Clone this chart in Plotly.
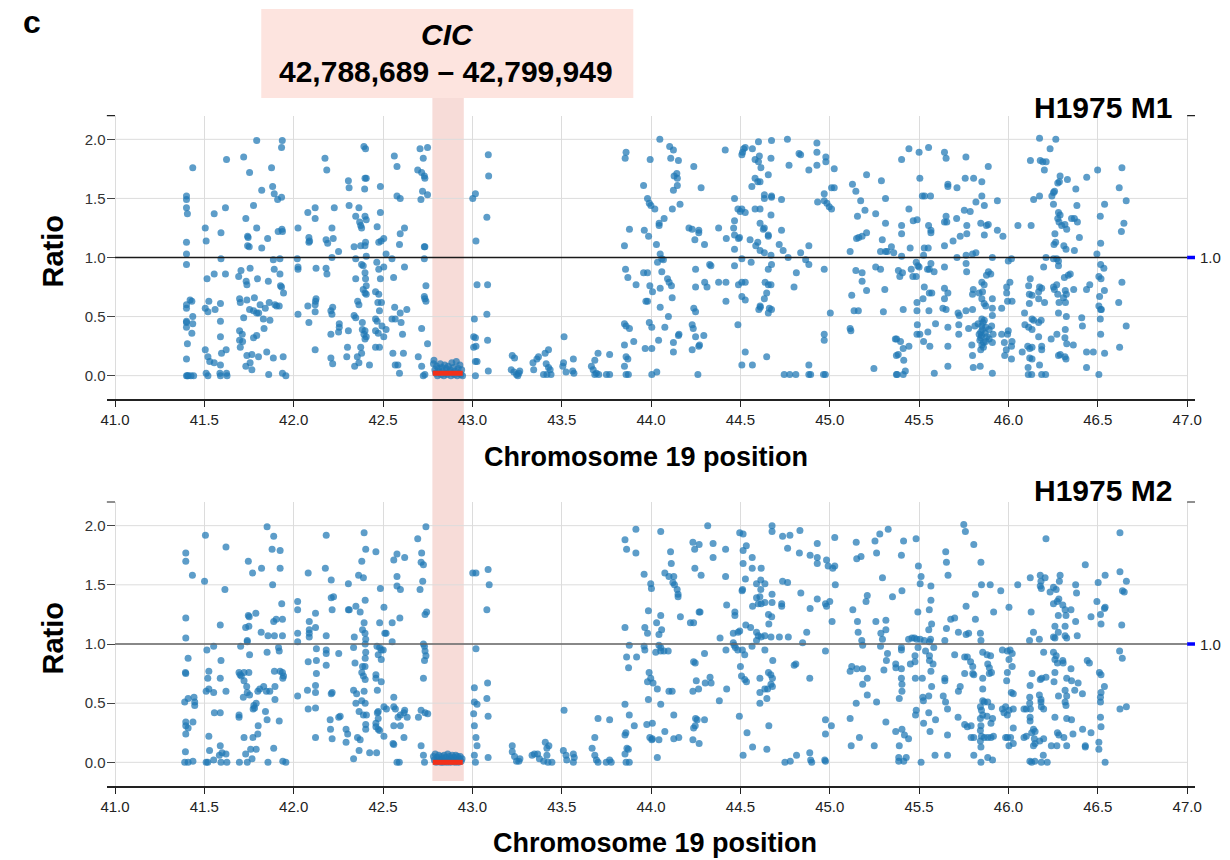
import plotly.graph_objects as go

# ---------------- data (Chromosome 19 position in Mb, copy-number ratio) ----------------
m1_a = [(41.40,1.52),(41.40,1.49),(41.40,1.42),(41.405,1.37),(41.40,1.13),(41.40,1.03),(41.40,0.94),(41.40,0.60),(41.40,0.57),(41.40,0.46),(41.40,0.45),(41.40,0.41),(41.405,0.27),(41.40,0.14),(41.40,0.0),(41.405,0.0),(41.41,0.0),
        (41.42,0.64),(41.43,0.63),(41.435,0.50),(41.435,0.44),(41.43,0.36),(41.425,0.0),(41.44,0.0),(41.435,1.76),
        (41.505,1.25),(41.51,1.14),(41.515,0.82),(41.505,0.57),(41.52,0.54),(41.525,0.63),(41.505,0.22),(41.52,0.16),(41.53,0.12),(41.51,0.02),(41.52,0.0),
        (41.555,1.37),(41.555,0.86),(41.56,0.56),(41.555,0.11),
        (41.593,1.21),(41.593,0.99),(41.59,0.61),(41.59,0.46),(41.59,0.33),(41.596,0.19),(41.59,0.09),(41.587,0.02),(41.59,0.0),(41.618,1.42),(41.624,1.83),(41.618,0.86),(41.622,0.22),(41.624,0.02),(41.627,0.0)]
m1_b = [(41.692,0.84),(41.705,0.89),(41.72,1.85),(41.753,1.72),(41.732,1.33),(41.775,1.44),(41.742,1.18),(41.745,1.17),(41.742,1.10),(41.751,1.09),(41.756,0.91),(41.734,0.80),(41.738,0.77),(41.697,0.65),(41.701,0.62),(41.738,0.64),(41.72,0.49),(41.753,0.56),(41.78,0.66),(41.775,0.55),(41.793,0.53),(41.697,0.38),(41.712,0.35),(41.697,0.30),(41.714,0.29),(41.701,0.24),(41.738,0.17),(41.766,0.18),(41.756,0.11),(41.732,0.08),(41.766,0.05),(41.775,0.32),(41.793,0.34),
        (41.793,1.99),(41.821,1.57),(41.793,1.25),(41.821,1.08),(41.854,1.16),(41.797,0.82),(41.812,0.60),(41.804,0.53),(41.83,0.48),(41.841,0.57),(41.834,0.40),(41.858,0.80),(41.863,0.62),(41.867,0.47),(41.849,0.20),(41.803,0.16),(41.86,0.01),
        (41.876,1.76),(41.882,1.60),(41.891,1.54),(41.91,1.49),(41.932,1.51),(41.936,1.99),(41.932,1.93),(41.913,1.22),(41.934,1.24),(41.937,1.22),(41.886,0.98),(41.923,0.99),(41.891,0.90),(41.923,0.86),(41.926,0.76),(41.932,0.75),(41.943,0.70),(41.895,0.60),(41.904,0.59),(41.919,0.59),(41.886,0.15),(41.941,0.16),(41.937,0.02),(41.956,0.0)]
m1_c = [(42.024,1.25),(42.02,0.99),(42.024,0.92),(42.024,0.90),(42.079,1.38),(42.12,1.42),(42.12,1.33),(42.085,1.17),(42.085,1.13),(42.089,1.14),(42.125,0.91),(42.079,0.59),(42.024,0.52),(42.085,0.45),(42.122,0.63),(42.125,0.65),(42.12,0.60),(42.12,0.54),(42.12,0.22),
        (42.175,1.84),(42.185,1.74),(42.181,1.15),(42.19,1.12),(42.221,1.16),(42.214,1.25),(42.227,1.42),(42.181,0.91),(42.186,0.86),(42.214,1.00),(42.251,1.05),(42.208,0.55),(42.218,0.58),(42.214,0.52),(42.208,0.35),(42.255,0.44),(42.255,0.41),(42.251,0.37),(42.208,0.15),(42.218,0.10),
        (42.306,1.65),(42.31,1.59),(42.31,1.44),(42.306,0.38),(42.301,0.24),(42.297,0.16),(42.347,1.35),(42.365,1.42),(42.369,1.30),(42.375,1.27),(42.38,1.25),(42.338,1.09),(42.375,1.10),(42.347,0.99),(42.347,0.82),(42.358,0.63),(42.365,0.60),(42.338,0.51),(42.347,0.49),(42.341,0.08),(42.365,0.11),(42.356,0.16),(42.375,0.24),(42.38,0.19),
        (42.393,1.94),(42.402,1.92),(42.399,1.67),(42.406,1.67),(42.397,1.58),(42.399,1.35),(42.406,1.32),(42.402,1.13),(42.399,1.10),(42.406,1.01),(42.38,0.94),(42.389,0.93),(42.399,0.87),(42.402,0.82),(42.406,0.76),(42.389,0.73),(42.399,0.70),(42.406,0.69),(42.384,0.45),(42.399,0.38),(42.384,0.39),(42.393,0.35),(42.406,0.33),(42.399,0.31),(42.424,0.09)]
m1_d = [(42.485,1.60),(42.485,1.38),(42.467,1.26),(42.476,1.13),(42.489,1.14),(42.504,1.16),(42.465,0.96),(42.476,0.90),(42.504,0.92),(42.517,1.03),(42.485,0.82),(42.458,0.71),(42.476,0.69),(42.471,0.62),(42.491,0.62),(42.48,0.55),(42.458,0.48),(42.467,0.46),(42.494,0.42),(42.458,0.38),(42.473,0.36),(42.504,0.33),(42.517,0.39),(42.458,0.24),(42.48,0.24),
        (42.563,1.86),(42.578,1.77),(42.578,1.52),(42.596,1.50),(42.596,1.20),(42.62,1.25),(42.592,1.11),(42.55,0.99),(42.559,0.83),(42.62,0.92),(42.565,0.58),(42.55,0.48),(42.568,0.48),(42.596,0.53),(42.601,0.45),(42.633,0.56),(42.609,0.35),(42.555,0.19),(42.614,0.19),(42.568,0.09),(42.583,0.09),(42.592,0.02),
        (42.707,1.92),(42.749,1.93),(42.725,1.84),(42.694,1.74),(42.716,1.72),(42.731,1.69),(42.734,1.67),(42.721,1.56),(42.749,1.53),(42.712,1.49),(42.731,1.09),(42.734,1.09),(42.731,0.99),(42.74,0.76),(42.731,0.67),(42.734,0.65),(42.74,0.63),(42.716,0.40),(42.749,0.27),(42.697,0.16),(42.716,0.08),(42.725,0.0),(42.734,0.01),
        (43.002,1.50),(43.017,1.54),(43.02,1.14),(43.026,0.77),(43.011,0.48),(43.007,0.33),(43.017,0.32),(43.02,0.25),(43.007,0.24),(43.017,0.12),(43.026,0.12),(43.017,0.0),(43.089,1.87),(43.091,1.69),(43.081,1.34),(43.085,0.77),(43.081,0.52),(43.085,0.30),(43.089,0.04)]
m1_cic = [(42.782,0.10),(42.785,0.13),(42.79,0.05),(42.795,0.02),(42.80,0.08),(42.805,0.0),(42.81,0.06),(42.815,0.03),(42.82,0.10),(42.825,0.01),(42.83,0.07),(42.835,0.04),(42.84,0.0),(42.845,0.09),(42.85,0.02),(42.855,0.06),(42.86,0.01),(42.865,0.08),(42.87,0.03),(42.875,0.05),(42.88,0.0),(42.885,0.11),(42.89,0.02),(42.895,0.07),(42.90,0.01),(42.905,0.04),(42.91,0.12),(42.915,0.0),(42.92,0.06),(42.925,0.02),(42.93,0.09),(42.935,0.01),(42.94,0.05),(42.945,0.0)]
m1_e = [(43.223,0.17),(43.236,0.15),(43.217,0.05),(43.232,0.03),(43.247,0.01),(43.254,0.0),(43.265,0.04),(43.26,0.02),(43.339,0.11),(43.343,0.05),(43.361,0.14),(43.37,0.16),(43.407,0.19),(43.426,0.22),(43.413,0.10),(43.426,0.07),(43.435,0.05),(43.398,0.01),(43.417,0.01),(43.44,0.01),(43.513,0.33),(43.51,0.11),(43.506,0.08),(43.524,0.03),(43.565,0.14),(43.561,0.04),(43.568,0.02),(43.666,0.08),(43.676,0.05),(43.685,0.13),(43.703,0.19),(43.694,0.02),(43.685,0.01),(43.707,0.01),(43.75,0.01),(43.768,0.01),(43.768,0.18)]
m1_f = [(43.86,1.89),(43.855,1.84),(43.851,1.10),(43.879,1.24),(43.857,0.90),(43.87,0.83),(43.916,0.77),(43.851,0.44),(43.86,0.42),(43.879,0.40),(43.903,0.29),(43.851,0.26),(43.86,0.16),(43.87,0.14),(43.851,0.08),(43.86,0.01),(43.873,0.01),
        (43.958,1.61),(43.98,1.50),(43.99,1.46),(43.999,1.44),(44.021,1.41),(43.995,1.83),(43.962,1.23),(43.986,1.18),(43.958,0.87),(43.98,0.87),(43.993,0.76),(44.008,0.71),(43.98,0.63),(43.971,0.63),(43.99,0.45),(44.004,0.41),(43.967,0.23),(44.004,0.23),(44.004,0.01),(44.032,0.03),
        (44.049,2.0),(44.104,1.94),(44.125,1.91),(44.11,1.84),(44.153,1.82),(44.239,1.77),(44.144,1.71),(44.129,1.69),(44.147,1.67),(44.147,1.61),(44.125,1.57),(44.28,1.59),(44.162,1.45),(44.119,1.41),(44.073,1.33),(44.045,1.29),(44.045,1.27),(44.03,1.11),(44.051,1.03),(44.06,0.99),(44.069,0.98),(44.036,0.96),(44.06,0.88),(44.092,0.82),(44.101,0.79),(44.114,0.76),(44.051,0.74),(44.118,0.66),(44.051,0.58),(44.097,0.50),(44.077,0.41),(44.042,0.30),(44.125,0.28),(44.125,0.20),(44.156,0.35),(44.153,0.34),
        (44.212,1.25),(44.23,1.24),(44.267,1.23),(44.267,1.21),(44.245,1.15),(44.299,1.11),(44.249,0.90),(44.249,0.75),(44.30,0.79),(44.313,0.75),(44.328,0.94),(44.335,0.93),(44.239,0.57),(44.249,0.54),(44.23,0.43),(44.236,0.40),(44.249,0.33),(44.295,0.34),(44.23,0.22),(44.267,0.25),(44.271,0.26),(44.262,0.01)]
m1_g = [(44.378,1.25),(44.415,1.91),(44.421,1.16),(44.378,0.79),(44.419,0.79),(44.419,0.63),(44.467,1.50),(44.467,1.31),(44.462,1.25),(44.467,1.19),(44.467,1.07),(44.467,0.93),(44.486,1.41),(44.499,1.39),(44.508,1.41),(44.527,1.38),(44.495,1.17),(44.489,1.16),(44.508,0.99),(44.512,1.89),(44.518,1.92),(44.527,1.93),(44.508,1.87),(44.489,0.77),(44.508,0.79),(44.527,0.79),(44.508,0.67),(44.527,0.64),(44.486,0.43),(44.527,0.20),(44.508,0.09),(44.567,0.09),(44.56,0.96),(44.554,1.15),
        (44.567,1.92),(44.601,1.98),(44.582,1.83),(44.606,1.86),(44.601,1.81),(44.615,1.76),(44.582,1.67),(44.597,1.64),(44.61,1.64),(44.564,1.60),(44.634,1.53),(44.634,1.50),(44.582,1.41),(44.61,1.41),(44.61,1.29),(44.634,1.25),(44.628,1.24),(44.597,1.13),(44.586,1.10),(44.61,1.06),(44.634,1.04),(44.612,0.58),(44.61,0.59),(44.634,0.65),(44.647,0.70),(44.638,0.79),(44.603,0.56),(44.647,0.16),
        (44.656,1.18),(44.656,1.19),(44.656,1.70),(44.674,1.99),(44.671,1.84),(44.674,1.52),(44.671,1.36),(44.674,1.51),(44.671,1.02),(44.674,0.94),(44.656,0.90),(44.671,0.77),(44.656,0.77),(44.662,0.57),(44.674,0.56),(44.656,0.53)]
m1_h = [(44.717,1.11),(44.73,1.23),(44.73,1.49),(44.739,1.06),(44.763,2.0),(44.772,1.78),(44.767,1.00),(44.80,0.75),(44.813,0.87),(44.745,0.01),(44.776,0.01),(44.81,0.01),(44.828,1.88),(44.837,1.87),(44.837,1.04),(44.865,0.98),(44.883,1.74),(44.883,1.10),(44.883,0.94),(44.883,0.09),(44.883,0.01),(44.893,0.01),(44.928,1.97),(44.928,1.89),(44.928,1.78),(44.969,1.54),(44.932,1.47),(44.969,1.48),(44.978,1.85),(44.978,1.81),(44.984,1.46),(44.997,1.43),(45.01,1.41),(45.025,1.75),(45.01,1.59),(45.025,1.59),(44.969,0.90),(44.969,0.35),(44.969,0.30),(44.965,0.01),(44.975,0.01),(45.003,0.53),
        (45.114,1.05),(45.127,1.62),(45.146,1.56),(45.173,1.48),(45.155,1.35),(45.197,1.40),(45.206,1.70),(45.15,1.16),(45.162,1.17),(45.181,1.18),(45.206,1.21),(45.146,0.89),(45.181,0.87),(45.181,0.80),(45.206,0.72),(45.123,0.68),(45.136,0.55),(45.16,0.55),(45.114,0.40),(45.118,0.38),(45.247,0.06),(45.257,1.37),(45.289,1.65),(45.312,1.50),(45.312,1.29),(45.294,1.15),(45.284,1.05),(45.312,1.05),(45.322,1.05),(45.345,1.09),(45.358,1.04),(45.257,0.92),(45.284,0.90),(45.308,0.73),(45.30,0.54),(45.367,0.31),(45.373,0.17),(45.373,0.01)]
m1_i = [(45.402,1.83),(45.443,1.92),(45.50,1.89),(45.553,1.93),(45.504,1.67),(45.518,1.52),(45.531,1.52),(45.564,1.52),(45.443,1.41),(45.467,1.31),(45.489,1.32),(45.402,1.27),(45.402,1.20),(45.45,1.08),(45.402,1.01),(45.553,1.27),(45.566,1.23),(45.566,1.21),(45.529,1.08),(45.551,1.08),(45.525,1.02),(45.484,0.96),(45.493,0.93),(45.50,0.92),(45.566,0.95),(45.557,0.90),(45.547,0.90),(45.584,0.88),(45.384,0.89),(45.392,0.84),(45.407,0.87),(45.456,0.90),(45.465,0.84),(45.484,0.84),(45.529,0.75),(45.557,0.70),(45.571,0.70),(45.488,0.62),(45.522,0.65),(45.411,0.56),(45.488,0.55),(45.555,0.55),(45.49,0.43),(45.488,0.35),(45.504,0.35),(45.549,0.37),(45.592,0.44),(45.374,0.31),(45.396,0.29),(45.411,0.23),(45.443,0.25),(45.383,0.18),(45.414,0.13),(45.423,0.04),(45.377,0.01),(45.411,0.01),(45.525,0.29),(45.56,0.25),(45.585,0.02),
        (45.642,1.89),(45.651,1.84),(45.661,1.62),(45.661,1.60),(45.712,1.59),(45.762,1.85),(45.758,1.67),(45.805,1.67),(45.851,1.64),(45.851,1.52),(45.818,1.47),(45.887,1.77),(45.865,1.44),(45.938,1.48),(45.753,1.40),(45.786,1.39),(45.651,1.35),(45.642,1.30),(45.655,1.30),(45.71,1.33),(45.767,1.27),(45.767,1.20),(45.73,1.18),(45.69,1.14),(45.642,1.10),(45.845,1.29),(45.877,1.27),(45.887,1.28),(45.865,1.19),(45.938,1.23),(45.969,1.18),(45.818,1.04),(45.799,1.03),(45.763,1.02),(45.712,1.00),(45.763,0.95),(45.642,0.92),(45.766,0.88),(45.91,1.00),(45.888,0.88),(45.901,0.86),(45.877,0.85),(45.851,0.79),(45.864,0.77),(45.836,0.70),(45.855,0.71),(45.803,0.73),(45.799,0.69),(45.642,0.74),(45.661,0.70),(45.642,0.65),(45.633,0.57),(45.651,0.56),(45.718,0.53),(45.725,0.51),(45.762,0.55),(45.799,0.56),(45.851,0.65),(45.864,0.61),(45.873,0.59),(45.91,0.65),(45.91,0.57),(45.962,0.57),
        (45.661,0.41),(45.722,0.43),(45.777,0.40),(45.812,0.42),(45.851,0.48),(45.858,0.45),(45.855,0.39),(45.873,0.41),(45.892,0.39),(45.906,0.42),(45.91,0.51),(45.722,0.35),(45.795,0.26),(45.836,0.35),(45.845,0.32),(45.851,0.26),(45.845,0.22),(45.873,0.29),(45.892,0.31),(45.91,0.28),(45.914,0.35),(45.799,0.17),(45.803,0.07),(45.842,0.08),(45.91,0.02),(45.661,0.25),(45.661,0.08),(45.962,0.35),
        (45.84,0.30),(45.85,0.34),(45.86,0.28),(45.85,0.42),(45.87,0.36),(45.83,0.44),(45.86,0.24),(45.88,0.33),(45.845,0.37),(45.865,0.47)]
m1_j = [(45.977,0.28),(45.995,0.35),(45.988,0.22),(45.999,0.38),(46.017,0.25),(46.02,0.29),(46.017,0.14),(45.979,0.17),(45.99,0.75),(45.99,0.70),(46.008,0.79),(45.995,0.63),(46.02,0.63),(46.017,0.99),(45.999,0.97),
        (46.053,1.27),(46.127,1.27),(46.141,1.49),(46.174,1.52),(46.123,1.82),(46.174,2.01),(46.178,1.82),(46.192,1.81),(46.211,1.81),(46.201,1.74),(46.233,1.92),(46.265,2.0),(46.289,1.69),(46.276,1.63),(46.285,1.64),(46.33,1.66),(46.252,1.55),(46.258,1.56),(46.243,1.52),(46.252,1.45),(46.28,1.38),(46.276,1.33),(46.289,1.36),(46.283,1.30),(46.298,1.27),(46.316,1.28),(46.326,1.24),(46.353,1.33),(46.369,1.33),(46.377,1.58),(46.383,1.44),(46.386,1.30),(46.26,1.20),(46.264,1.13),(46.255,1.11),(46.31,1.10),(46.322,1.07),(46.369,1.06),(46.397,1.17),
        (46.21,1.00),(46.252,0.99),(46.27,0.99),(46.28,0.97),(46.28,0.93),(46.197,0.92),(46.122,0.82),(46.113,0.76),(46.174,0.75),(46.186,0.74),(46.252,0.75),(46.27,0.77),(46.257,0.73),(46.276,0.69),(46.313,0.83),(46.335,0.85),(46.346,0.86),(46.318,0.72),(46.308,0.66),(46.324,0.69),(46.365,0.73),(46.169,0.71),(46.117,0.69),(46.132,0.68),(46.169,0.65),(46.202,0.62),(46.117,0.61),(46.283,0.62),(46.319,0.62),(46.437,0.73),(46.455,0.77),(46.495,1.03),(46.516,1.12),(46.514,1.35),(46.499,1.74),(46.438,1.68),(46.538,1.45),(46.62,1.59),(46.635,1.76),(46.659,1.48),(46.646,1.29),(46.632,1.22),(46.516,0.94),(46.534,0.91),(46.506,0.84),(46.518,0.82),(46.537,0.72),(46.51,0.67),(46.506,0.59),(46.516,0.56),(46.52,0.56),(46.635,0.79),(46.617,0.62),
        (46.09,0.53),(46.132,0.48),(46.141,0.47),(46.183,0.47),(46.169,0.45),(46.092,0.43),(46.113,0.41),(46.132,0.39),(46.169,0.33),(46.239,0.31),(46.271,0.35),(46.28,0.53),(46.324,0.50),(46.318,0.39),(46.41,0.49),(46.414,0.42),(46.514,0.48),(46.516,0.35),(46.659,0.42),(46.622,0.24),(46.316,0.32),(46.326,0.27),(46.363,0.26),(46.28,0.17),(46.29,0.18),(46.316,0.16),(46.322,0.14),(46.108,0.25),(46.119,0.23),(46.132,0.24),(46.186,0.25),(46.186,0.22),(46.077,0.20),(46.119,0.15),(46.132,0.14),(46.174,0.09),(46.11,0.07),(46.111,0.01),(46.13,0.01),(46.186,0.01),(46.208,0.01),(46.437,0.07),(46.437,0.20),(46.475,0.20),(46.538,0.19),(46.506,0.01)]

m2_a = [(41.396,1.77),(41.396,1.70),(41.433,1.58),(41.396,1.22),(41.396,1.05),(41.409,0.88),(41.394,0.76),(41.396,0.75),(41.39,0.51),(41.409,0.54),(41.442,0.55),(41.446,0.51),(41.446,0.48),(41.396,0.34),(41.409,0.29),(41.396,0.31),(41.396,0.24),(41.436,0.34),(41.394,0.09),(41.39,0.0),(41.409,0.0),(41.436,0.01),
        (41.506,1.92),(41.501,1.53),(41.514,0.95),(41.552,0.98),(41.525,0.77),(41.519,0.71),(41.51,0.60),(41.525,0.62),(41.552,0.59),(41.556,0.42),(41.589,0.42),(41.525,0.22),(41.529,0.10),(41.51,0.0),(41.519,0.0),(41.552,0.02),(41.589,0.14),(41.584,0.06),(41.599,0.08),(41.593,0.0),(41.589,1.16),(41.593,0.86),(41.589,0.71),(41.621,1.82),(41.615,1.46),(41.621,0.60),(41.621,0.07),(41.626,0.0)]
m2_b = [(41.696,0.0),(41.703,0.98),(41.694,0.76),(41.70,0.74),(41.707,0.73),(41.722,0.76),(41.74,1.03),(41.74,1.02),(41.731,1.14),(41.749,1.15),(41.746,1.24),(41.751,1.23),(41.746,1.70),(41.77,1.60),(41.788,1.26),(41.753,0.91),(41.722,0.69),(41.737,0.64),(41.749,0.76),(41.718,0.55),(41.753,0.57),(41.694,0.40),(41.694,0.38),(41.74,0.59),(41.722,0.21),(41.731,0.07),(41.74,0.0),(41.767,0.03),(41.759,0.11),(41.79,0.11),(41.772,0.21),(41.799,0.24),(41.801,0.31),(41.773,0.45),(41.777,0.48),(41.79,0.50),(41.781,0.46),(41.799,0.60),(41.81,0.62),(41.818,1.10),(41.82,1.64),
        (41.851,1.99),(41.879,1.80),(41.888,1.91),(41.882,1.50),(41.924,1.79),(41.924,1.64),(41.856,1.07),(41.892,1.07),(41.937,1.07),(41.888,1.19),(41.902,1.21),(41.937,1.21),(41.933,1.34),(41.851,0.93),(41.915,0.97),(41.919,0.94),(41.832,0.64),(41.847,0.60),(41.892,0.77),(41.895,0.64),(41.924,0.77),(41.937,0.76),(41.943,0.73),(41.939,0.71),(41.895,0.53),(41.866,0.60),(41.842,0.43),(41.851,0.36),(41.919,0.35),(41.856,0.0),(41.888,0.12),(41.939,0.01),(41.956,0.0)]
m2_c = [(42.022,1.36),(42.022,1.29),(42.022,1.09),(42.022,1.02),(42.022,0.56),(42.081,1.60),(42.087,1.19),(42.087,1.12),(42.087,1.09),(42.087,1.06),(42.081,0.85),(42.077,0.61),(42.081,0.45),(42.122,1.26),(42.122,1.14),(42.127,0.96),(42.127,0.86),(42.127,0.75),(42.122,0.65),(42.122,0.59),(42.122,0.46),(42.122,0.21),
        (42.182,1.92),(42.177,1.64),(42.21,1.54),(42.182,1.07),(42.182,0.95),(42.182,0.92),(42.182,0.82),(42.21,1.39),(42.223,1.40),(42.215,1.29),(42.21,0.58),(42.215,0.59),(42.204,0.36),(42.206,0.28),(42.215,0.20),(42.252,0.92),(42.252,0.38),(42.26,0.39),
        (42.306,1.51),(42.306,1.29),(42.311,1.29),(42.293,0.28),(42.302,0.24),(42.293,0.17),(42.335,0.97),(42.339,1.06),(42.348,1.32),(42.363,1.58),(42.372,1.27),(42.343,0.84),(42.335,0.61),(42.352,0.58),(42.348,0.50),(42.366,0.43),(42.357,0.21),(42.372,0.19),(42.366,0.10),(42.335,0.03),
        (42.381,1.70),(42.39,1.56),(42.394,1.94),(42.403,1.80),(42.40,1.37),(42.394,1.18),(42.385,1.12),(42.399,1.09),(42.403,1.04),(42.40,1.00),(42.403,0.93),(42.40,0.88),(42.385,0.81),(42.399,0.81),(42.381,0.76),(42.39,0.73),(42.40,0.70),(42.394,0.60),(42.381,0.52),(42.40,0.50),(42.39,0.40),(42.407,0.40),(42.403,0.32),(42.403,0.28),(42.425,0.08)]
m2_d = [(42.46,1.78),(42.485,1.47),(42.481,1.18),(42.466,0.98),(42.481,0.97),(42.49,0.95),(42.473,0.91),(42.49,0.87),(42.505,1.31),(42.51,1.09),(42.517,1.09),(42.501,0.95),(42.46,0.74),(42.46,0.71),(42.49,0.68),(42.468,0.61),(42.473,0.43),(42.468,0.42),(42.473,0.37),(42.46,0.33),(42.473,0.28),(42.481,0.27),(42.46,0.30),(42.505,0.22),(42.464,0.08),(42.505,0.47),(42.519,0.45),
        (42.56,1.71),(42.578,1.76),(42.621,1.73),(42.578,1.57),(42.578,1.49),(42.597,1.46),(42.594,1.22),(42.551,1.18),(42.551,1.02),(42.56,0.55),(42.56,0.47),(42.569,0.45),(42.597,0.40),(42.584,0.38),(42.617,0.42),(42.635,0.38),(42.621,0.44),(42.56,0.31),(42.597,0.31),(42.556,0.16),(42.56,0.15),(42.617,0.21),(42.578,0.0),(42.591,0.0),
        (42.694,1.89),(42.74,1.99),(42.716,1.77),(42.713,1.69),(42.726,1.67),(42.722,1.53),(42.707,1.46),(42.735,1.25),(42.744,1.27),(42.726,1.00),(42.732,0.98),(42.735,0.94),(42.74,0.90),(42.732,0.86),(42.726,0.71),(42.713,0.44),(42.735,0.42),(42.75,0.41),(42.698,0.38),(42.713,0.14),(42.726,0.06),(42.732,0.0),
        (43.002,1.60),(43.02,1.60),(43.088,1.63),(43.094,1.50),(43.081,1.29),(43.02,0.96),(43.011,0.63),(43.011,0.51),(43.026,0.49),(43.007,0.41),(43.085,0.67),(43.081,0.54),(43.088,0.39),(43.011,0.31),(43.02,0.21),(43.026,0.14),(43.011,0.06),(43.017,0.0),(43.088,0.04)]
m2_cic = [(42.782,0.05),(42.787,0.02),(42.792,0.07),(42.797,0.0),(42.802,0.04),(42.807,0.01),(42.812,0.06),(42.817,0.02),(42.822,0.0),(42.827,0.05),(42.832,0.03),(42.837,0.0),(42.842,0.06),(42.847,0.01),(42.852,0.04),(42.857,0.0),(42.862,0.07),(42.867,0.02),(42.872,0.05),(42.877,0.0),(42.882,0.03),(42.887,0.06),(42.892,0.01),(42.897,0.04),(42.902,0.0),(42.907,0.06),(42.912,0.02),(42.917,0.05),(42.922,0.0),(42.927,0.03),(42.932,0.05),(42.937,0.01),(42.942,0.03)]
m2_e = [(43.223,0.14),(43.223,0.09),(43.236,0.05),(43.247,0.01),(43.26,0.01),(43.266,0.03),(43.334,0.06),(43.347,0.07),(43.365,0.07),(43.375,0.03),(43.408,0.17),(43.417,0.12),(43.428,0.14),(43.417,0.06),(43.399,0.01),(43.423,0.0),(43.445,0.0),(43.513,0.44),(43.509,0.10),(43.524,0.06),(43.528,0.02),(43.565,0.07),(43.57,0.04),(43.565,0.0),(43.67,0.12),(43.685,0.06),(43.685,0.21),(43.703,0.37),(43.694,0.02),(43.703,0.0),(43.749,0.0),(43.768,0.02),(43.777,0.0),(43.768,0.36)]
m2_f = [(43.854,1.88),(43.863,1.80),(43.915,1.97),(43.915,1.77),(43.854,1.14),(43.878,0.99),(43.863,0.89),(43.874,0.80),(43.919,0.89),(43.961,1.59),(43.998,1.51),(44.002,1.47),(43.985,1.28),(43.965,1.14),(43.98,1.09),(43.961,0.98),(43.965,0.95),(43.989,0.76),(43.998,0.71),(43.98,0.68),(44.011,0.67),(43.854,0.49),(43.878,0.40),(43.906,0.31),(43.859,0.25),(43.854,0.23),(43.865,0.12),(43.873,0.11),(43.854,0.07),(43.86,0.0),(43.878,0.0),(43.985,0.53),(43.976,0.32),(44.007,0.33),(43.993,0.21),(44.004,0.19),(44.035,0.04),
        (44.054,1.95),(44.109,1.78),(44.113,1.68),(44.077,1.60),(44.10,1.57),(44.127,1.57),(44.122,1.52),(44.131,1.50),(44.146,1.46),(44.151,1.42),(44.151,1.40),(44.054,1.24),(44.031,1.18),(44.059,1.12),(44.044,1.08),(44.044,0.99),(44.054,0.97),(44.026,0.93),(44.054,0.94),(44.072,0.94),(44.096,0.94),(44.164,1.23),(44.22,1.18),(44.238,1.18),(44.234,1.86),(44.244,1.80),(44.269,1.84),(44.245,1.64),(44.28,1.58),(44.269,1.27),(44.274,1.27),(44.238,0.85),(44.247,0.84),(44.299,0.92),(44.035,0.62),(44.054,0.49),(44.10,0.60),(44.118,0.60),(44.127,0.40),(44.077,0.26),(44.044,0.19),(44.007,0.20),(44.127,0.20),(44.155,0.21),(44.234,0.60),(44.253,0.69),(44.266,0.62),(44.249,0.37),(44.258,0.36),(44.299,0.36),(44.238,0.29),(44.247,0.31),(44.234,0.19),(44.269,0.16)]
m2_g = [(44.317,2.0),(44.347,1.85),(44.347,1.73),(44.417,1.80),(44.417,1.57),(44.423,1.33),(44.386,1.05),(44.419,0.95),(44.303,0.67),(44.33,0.72),(44.336,0.67),(44.423,0.62),(44.382,0.52),(44.469,1.27),(44.469,1.24),(44.46,1.09),(44.46,1.01),(44.465,0.99),(44.472,0.97),(44.487,1.10),(44.496,1.11),(44.485,0.95),(44.50,0.81),(44.506,0.73),(44.524,0.70),(44.534,0.68),(44.524,0.91),(44.511,0.95),(44.496,1.94),(44.515,1.93),(44.515,1.79),(44.533,1.83),(44.515,1.68),(44.528,1.55),(44.509,1.45),(44.512,1.46),(44.53,1.16),(44.557,1.14),(44.494,0.39),(44.537,0.25),(44.515,0.06),
        (44.566,1.73),(44.566,1.64),(44.616,1.64),(44.59,1.51),(44.614,1.54),(44.637,1.51),(44.59,1.39),(44.609,1.40),(44.60,1.34),(44.616,1.34),(44.637,1.35),(44.568,1.32),(44.614,1.46),(44.677,2.0),(44.677,1.95),(44.677,1.42),(44.677,1.35),(44.657,1.25),(44.675,1.23),(44.659,1.17),(44.59,1.10),(44.60,1.07),(44.616,1.06),(44.637,1.07),(44.59,1.03),(44.565,0.98),(44.637,0.95),(44.671,1.06),(44.681,0.86),(44.657,0.76),(44.67,0.74),(44.679,0.71),(44.609,0.71),(44.671,0.66),(44.679,0.64),(44.652,0.62),(44.637,0.62),(44.609,0.59),(44.609,0.50),(44.648,0.54),(44.659,0.31),(44.568,0.13),(44.648,0.11)]
m2_h = [(44.736,1.91),(44.777,1.92),(44.833,1.96),(44.764,1.81),(44.83,1.77),(44.736,1.53),(44.764,1.52),(44.731,1.34),(44.731,1.32),(44.718,1.06),(44.768,1.06),(44.838,1.43),(44.89,1.75),(44.93,1.85),(44.93,1.73),(44.93,1.68),(44.93,1.38),(44.89,1.30),(44.871,1.10),(44.848,1.01),(44.801,0.82),(44.81,0.83),(44.888,0.71),(44.749,0.0),(44.779,0.01),(44.814,0.06),(44.888,0.08),(44.899,0.0),(44.893,0.02),
        (44.982,1.71),(44.991,1.66),(45.017,1.64),(45.028,1.66),(45.028,1.90),(45.031,1.50),(44.976,1.34),(44.982,1.32),(45.0,1.36),(45.013,1.19),(44.976,0.94),(44.976,0.36),(45.009,0.31),(44.976,0.24),(44.972,0.02),(44.976,0.01),
        (45.148,1.86),(45.151,1.72),(45.175,1.74),(45.129,1.29),(45.155,1.19),(45.159,1.10),(45.179,1.03),(45.184,0.99),(45.114,0.77),(45.123,0.81),(45.151,0.79),(45.184,0.79),(45.21,0.71),(45.184,0.66),(45.21,0.57),(45.148,0.50),(45.114,0.37),(45.166,0.21),(45.12,0.14),(45.203,1.36),(45.21,1.41),(45.253,1.87),(45.28,1.93),(45.262,1.77),(45.295,1.56),(45.258,1.19),(45.314,1.20),(45.314,1.12),(45.286,1.09),(45.295,1.04),(45.284,0.98),(45.323,0.92),(45.317,0.86),(45.303,0.78),(45.262,0.51),(45.314,0.34),(45.249,0.14),(45.327,1.97),(45.351,1.40),(45.369,0.83),(45.369,0.26)]
m2_i = [(45.413,1.87),(45.401,1.75),(45.483,1.89),(45.404,1.45),(45.493,1.27),(45.496,1.66),(45.511,1.57),(45.506,1.51),(45.566,1.49),(45.566,1.37),(45.557,1.29),(45.57,1.17),(45.554,1.12),(45.564,1.04),(45.558,1.02),(45.441,1.04),(45.46,1.05),(45.474,1.05),(45.487,1.04),(45.506,1.04),(45.529,1.03),(45.401,0.97),(45.401,0.95),(45.494,0.97),(45.536,0.94),(45.582,0.97),(45.558,0.90),(45.558,0.86),(45.578,0.83),(45.477,0.90),(45.477,0.85),(45.451,0.83),(45.37,0.80),(45.401,0.79),(45.401,0.71),(45.404,0.66),(45.404,0.60),(45.389,0.54),(45.479,0.71),(45.518,0.71),(45.566,0.77),(45.57,0.64),(45.521,0.55),(45.524,0.52),(45.554,0.56),(45.484,0.44),(45.48,0.40),(45.554,0.42),(45.592,0.36),(45.525,0.33),(45.561,0.26),(45.404,0.28),(45.418,0.23),(45.441,0.20),(45.389,0.14),(45.386,0.04),(45.428,0.04),(45.386,0.01),(45.414,0.01),(45.511,0.0),(45.589,0.06),
        (45.649,1.78),(45.653,1.69),(45.662,1.58),(45.75,2.01),(45.759,1.95),(45.806,1.84),(45.846,1.69),(45.849,1.50),(45.898,1.50),(45.815,1.42),(45.763,1.32),(45.677,1.21),(45.699,1.22),(45.815,1.21),(45.917,1.27),(45.653,1.13),(45.644,1.03),(45.72,1.10),(45.763,1.08),(45.777,1.09),(45.843,1.09),(45.846,1.03),(45.699,0.91),(45.755,0.89),(45.77,0.89),(45.788,0.85),(45.80,0.81),(45.755,0.75),(45.80,0.75),(45.806,0.74),(45.856,0.93),(45.88,0.91),(45.90,0.90),(45.884,0.83),(45.893,0.80),(45.905,0.76),(45.893,0.75),(45.856,0.71),(45.644,0.71),(45.644,0.69),(45.73,0.64),(45.72,0.60),(45.635,0.56),(45.648,0.51),(45.659,0.45),(45.718,0.38),(45.755,0.32),(45.77,0.30),(45.791,0.31),
        (45.856,0.62),(45.856,0.52),(45.843,0.47),(45.849,0.44),(45.865,0.51),(45.884,0.51),(45.905,0.47),(45.856,0.40),(45.88,0.39),(45.902,0.33),(45.911,0.37),(45.843,0.37),(45.846,0.31),(45.843,0.27),(45.849,0.22),(45.865,0.21),(45.884,0.21),(45.902,0.21),(45.916,0.22),(45.843,0.18),(45.846,0.13),(45.791,0.21),(45.806,0.21),(45.806,0.06),(45.659,0.23),(45.659,0.06),(45.884,0.04),(45.911,0.02),(45.846,0.0)]
m2_j = [(45.957,1.45),(46.003,1.31),(46.052,1.50),(46.122,1.56),(46.178,1.58),(46.182,1.53),(46.205,1.56),(46.21,1.89),(46.178,1.49),(46.184,1.47),(46.127,1.27),(46.14,1.10),(46.173,1.04),(46.118,1.03),(46.233,1.44),(46.252,1.48),(46.267,1.46),(46.289,1.58),(46.285,1.53),(46.282,1.38),(46.273,1.36),(46.252,1.34),(46.304,1.33),(46.317,1.29),(46.279,1.24),(46.26,1.15),(46.279,1.10),(46.322,1.24),(46.35,1.29),(46.376,1.19),(46.381,1.43),(46.376,1.50),(46.43,1.67),(46.385,1.07),(46.317,1.15),(46.317,1.07),(46.326,1.05),(46.26,1.05),(46.252,1.06),(46.197,0.93),
        (45.966,0.95),(45.994,0.94),(46.009,0.95),(46.021,0.92),(46.003,0.87),(46.021,0.81),(45.994,0.76),(45.99,0.69),(46.016,0.59),(46.027,0.58),(46.252,0.93),(46.267,0.90),(46.274,0.84),(46.26,0.87),(46.304,0.86),(46.26,0.76),(46.255,0.68),(46.306,0.84),(46.35,0.79),(46.132,0.75),(46.178,0.70),(46.186,0.71),(46.21,0.72),(46.121,0.65),(46.326,0.71),(46.353,0.69),(46.39,0.67),(46.371,0.61),(46.414,0.58),(46.317,0.61),(46.326,0.56),(46.28,0.56),(46.317,0.51),(46.322,0.48),(46.119,0.55),(46.173,0.57),(46.182,0.53),(46.182,0.51),(46.119,0.50),(46.184,0.47),(46.197,0.45),(46.10,0.45),(46.087,0.45),(46.123,0.45),(45.966,0.45),(45.984,0.47),(45.994,0.40),(46.003,0.44),(45.975,0.42),(46.027,0.45),(46.027,0.29),(46.121,0.38),(46.121,0.35),(46.14,0.28),(46.149,0.26),(46.13,0.25),(46.145,0.20),(46.10,0.22),(46.087,0.21),(45.984,0.21),(45.994,0.21),(46.012,0.21),(46.003,0.14),(46.027,0.16),(46.149,0.16),(46.175,0.18),(46.197,0.20),(46.14,0.14),(46.195,0.06),(46.12,0.01),(46.13,0.0),(46.148,0.01),(46.184,0.0),(46.217,0.0),
        (46.26,0.38),(46.326,0.37),(46.353,0.36),(46.274,0.25),(46.282,0.23),(46.31,0.21),(46.24,0.14),(46.271,0.14),(46.326,0.14),(46.361,0.24),(46.415,0.28),(46.43,0.14),(46.43,0.13),(46.462,0.25),(46.506,0.17),(46.506,0.11),(46.541,0.0),(46.518,0.30),(46.515,0.38),(46.515,0.51),(46.515,0.55),(46.518,0.59),(46.537,0.64),(46.509,0.76),(46.518,0.74),(46.441,0.86),(46.453,0.84),(46.622,0.94),(46.637,0.88),(46.624,0.45),(46.66,0.47),(46.634,1.16),(46.624,1.61),(46.624,1.94),(46.66,1.53),(46.638,1.45),(46.648,1.44),(46.541,1.58),(46.502,1.52),(46.495,1.36),(46.537,1.30),(46.541,1.31),(46.515,1.25),(46.518,1.17),(46.462,1.23)]

sample_names = ["H1975 M1", "H1975 M2"]
cic_band = [42.776, 42.952]          # highlighted CIC region (Mb)
seg_start, seg_end = 42.778, 42.946  # deletion segment
seg_ratio = [0.02, 0.0]
ref_ratio = 1.0
y_ticks = [0.0, 0.5, 1.0, 1.5, 2.0]
x_range = [40.953, 47.044]
y_range = [-0.2, 2.2]

panels_points = [m1_a + m1_b + m1_c + m1_d + m1_cic + m1_e + m1_f + m1_g + m1_h + m1_i + m1_j,
                 m2_a + m2_b + m2_c + m2_d + m2_cic + m2_e + m2_f + m2_g + m2_h + m2_i + m2_j]

# ---------------- figure ----------------
W, H = 1230, 860
FONT = "Liberation Sans, Arial, Helvetica, sans-serif"
x_dom = [101.7 / W, 1201.7 / W]
y_doms = [[(H - 399.3) / H, (H - 115.7) / H], [(H - 786.0) / H, (H - 502.0) / H]]
ref_colors = ["#1a1a1a", "#666666"]

fig = go.Figure()
shapes = []
annotations = []

# highlight band spanning both panels (below everything)
box_bottom = (H - 98) / H
shapes.append(dict(type="rect", xref="x", yref="paper", x0=cic_band[0], x1=cic_band[1],
                   y0=(H - 781) / H, y1=box_bottom, fillcolor="rgba(236,168,158,0.40)",
                   line=dict(width=0), layer="below"))

for i in range(2):
    xa = "x" if i == 0 else "x2"
    ya = "y" if i == 0 else "y2"
    pts = panels_points[i]
    fig.add_trace(go.Scatter(x=[p[0] for p in pts], y=[p[1] for p in pts], xaxis=xa, yaxis=ya,
                             mode="markers", hoverinfo="skip", showlegend=False,
                             marker=dict(size=7, color="#1f77b4", opacity=0.72, line=dict(width=0))))
    fig.add_trace(go.Scatter(x=[seg_start, seg_end], y=[seg_ratio[i], seg_ratio[i]], xaxis=xa, yaxis=ya,
                             mode="lines", hoverinfo="skip", showlegend=False,
                             line=dict(color="#f2301a", width=5)))
    # horizontal gridlines
    for yv in y_ticks:
        shapes.append(dict(type="line", xref=xa, yref=ya, x0=41.0, x1=47.0, y0=yv, y1=yv,
                           line=dict(color="#dcdcdc", width=1), layer="below"))
    # reference line at ratio 1.0
    shapes.append(dict(type="line", xref=xa, yref=ya, x0=41.0, x1=47.0, y0=ref_ratio, y1=ref_ratio,
                       line=dict(color=ref_colors[i], width=1.4), layer="above"))
    # blue marker at 1.0 on the right axis
    shapes.append(dict(type="line", xref=xa, yref=ya, x0=47.0, x1=x_range[1], y0=ref_ratio, y1=ref_ratio,
                       line=dict(color="#0000ff", width=3.5), layer="above"))
    # outer ticks at top of axes
    ytop = y_doms[i][1]
    shapes.append(dict(type="line", xref=xa, yref="paper", x0=x_range[0], x1=41.0, y0=ytop, y1=ytop,
                       line=dict(color="#222222", width=1.2)))
    shapes.append(dict(type="line", xref=xa, yref="paper", x0=47.0, x1=x_range[1], y0=ytop, y1=ytop,
                       line=dict(color="#222222", width=1.2)))
    annotations.append(dict(xref=xa + " domain", yref=ya, x=1.0, y=ref_ratio, xanchor="left", yanchor="middle",
                            xshift=3, text="1.0", showarrow=False, font=dict(family=FONT, size=15, color="#222")))
    # panel title
    annotations.append(dict(xref="paper", yref="paper", x=1180 / W, y=(H - [107, 490][i]) / H,
                            xanchor="right", yanchor="middle", showarrow=False,
                            text="<b>%s</b>" % sample_names[i], font=dict(family=FONT, size=30, color="#000")))
    # y title
    annotations.append(dict(xref="paper", yref="paper", x=48 / W, y=(H - [251, 638][i]) / H,
                            xanchor="center", yanchor="middle", showarrow=False, textangle=-90,
                            text="<b>Ratio</b>", font=dict(family=FONT, size=29, color="#000")))
    # x title
    annotations.append(dict(xref="paper", yref="paper", x=[647, 656][i] / W, y=(H - [457, 843][i]) / H,
                            xanchor="center", yanchor="middle", showarrow=False,
                            text="<b>Chromosome 19 position</b>", font=dict(family=FONT, size=27, color="#000")))

# gene label box
shapes.append(dict(type="rect", xref="paper", yref="paper", x0=258 / W, x1=634 / W, y0=box_bottom,
                   y1=(H - 9) / H, fillcolor="#fde4df", line=dict(width=0), layer="below"))
annotations.append(dict(xref="paper", yref="paper", x=446 / W, y=(H - 35) / H, xanchor="center", yanchor="middle",
                        showarrow=False, text="<b><i>CIC</i></b>", font=dict(family=FONT, size=30, color="#000")))
annotations.append(dict(xref="paper", yref="paper", x=445 / W, y=(H - 72) / H, xanchor="center", yanchor="middle",
                        showarrow=False, text="<b>42,788,689 \u2013 42,799,949</b>",
                        font=dict(family=FONT, size=30, color="#000")))
annotations.append(dict(xref="paper", yref="paper", x=26 / W, y=(H - 22) / H, xanchor="center", yanchor="middle",
                        showarrow=False, text="<b>c</b>", font=dict(family=FONT, size=32, color="#000")))

xaxis_common = dict(domain=x_dom, range=x_range, tickmode="linear", tick0=41.0, dtick=0.5, tickformat=".1f",
                    showgrid=True, gridcolor="#dcdcdc", gridwidth=1, zeroline=False,
                    showline=True, linecolor="#222222", linewidth=1.5,
                    ticks="outside", ticklen=6, tickwidth=1.2, tickcolor="#222222",
                    tickfont=dict(family=FONT, size=15, color="#222"), fixedrange=True)
yaxis_common = dict(range=y_range, tickmode="array", tickvals=y_ticks, tickformat=".1f",
                    showgrid=False, zeroline=False, showline=False,
                    ticks="inside", ticklen=8, tickwidth=1.2, tickcolor="#444444",
                    tickfont=dict(family=FONT, size=15, color="#333"), fixedrange=True)

fig.update_layout(
    width=W, height=860, margin=dict(l=0, r=0, t=0, b=0),
    paper_bgcolor="white", plot_bgcolor="rgba(0,0,0,0)",
    xaxis=dict(**xaxis_common, anchor="y"),
    xaxis2=dict(**xaxis_common, anchor="y2"),
    yaxis=dict(**yaxis_common, domain=y_doms[0], anchor="x"),
    yaxis2=dict(**yaxis_common, domain=y_doms[1], anchor="x2"),
    shapes=shapes, annotations=annotations, showlegend=False,
)

fig.write_html("out.html")
